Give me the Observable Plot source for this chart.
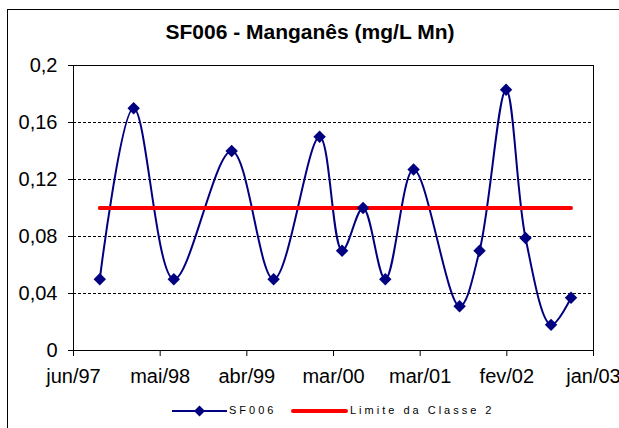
<!DOCTYPE html>
<html>
<head>
<meta charset="utf-8">
<script src="https://cdn.jsdelivr.net/npm/d3@7"></script>
<script src="https://cdn.jsdelivr.net/npm/@observablehq/plot@0.6"></script>
<style>
  body { margin: 0; background: #fff; overflow: hidden; }
  #wrap { position: relative; width: 619px; height: 428px; overflow: hidden; font-family: "Liberation Sans", Arial, sans-serif; background: #fff; }
  #border { position: absolute; left: 7px; top: 9px; width: 700px; height: 500px; border: 1px solid #000; box-sizing: border-box; }
  #title { position: absolute; left: 7px; width: 606px; top: 20px; text-align: center; font-weight: bold; font-size: 21px; line-height: 24px; color: #000; }
  #chart { position: absolute; left: 0; top: 0; }
  .leg { position: absolute; font-size: 11px; letter-spacing: 3px; line-height: 14px; color: #000; white-space: nowrap; }
  .sw { position: absolute; }
</style>
</head>
<body>
<div id="wrap">
  <div id="border"></div>
  <div id="chart"></div>
  <div id="title">SF006 - Manganês (mg/L Mn)</div>
  <svg class="sw" style="left:172px;top:403px" width="56" height="16">
    <line x1="0" y1="8" x2="55" y2="8" stroke="#000080" stroke-width="2"></line>
    <path d="M27.5,2.5L33,8L27.5,13.5L22,8Z" fill="#000080"></path>
  </svg>
  <div class="leg" style="left:229px;top:403px">SF006</div>
  <svg class="sw" style="left:291px;top:403px" width="57" height="16">
    <line x1="2" y1="8" x2="55" y2="8" stroke="#FF0000" stroke-width="4" stroke-linecap="round"></line>
  </svg>
  <div class="leg" style="left:350px;top:403px">Limite da Classe 2</div>
</div>
<script>
// ---- data ----
const sampleDates = ["1997-09-13","1998-01-25","1998-07-03","1999-02-17","1999-08-02","2000-01-31","2000-04-29","2000-07-21","2000-10-17","2001-02-06","2001-08-07","2001-10-25","2002-02-07","2002-04-25","2002-08-04","2002-10-22"];
const sf006 = [0.05, 0.17, 0.05, 0.14, 0.05, 0.15, 0.07, 0.10, 0.05, 0.127, 0.031, 0.07, 0.183, 0.079, 0.018, 0.037];
const limiteClasse2 = [0.1, 0.1, 0.1, 0.1, 0.1, 0.1, 0.1, 0.1, 0.1, 0.1, 0.1, 0.1, 0.1, 0.1, 0.1, 0.1];
const xTickDates = ["1997-06-01","1998-05-10","1999-04-18","2000-03-26","2001-03-04","2002-02-10","2003-01-19"];
const xTickLabels = ["jun/97","mai/98","abr/99","mar/00","mar/01","fev/02","jan/03"];
const yTicks = [0, 0.04, 0.08, 0.12, 0.16, 0.2];
const yTickLabels = ["0","0,04","0,08","0,12","0,16","0,2"];

const parse = d3.utcParse("%Y-%m-%d");
const data = sampleDates.map((d, i) => ({date: parse(d), value: sf006[i]}));
const limitData = sampleDates.map((d, i) => ({date: parse(d), value: limiteClasse2[i]}));
const xTicks = xTickDates.map(parse);
const xLabelMap = new Map(xTicks.map((d, i) => [+d, xTickLabels[i]]));

const chart = Plot.plot({
  width: 619,
  height: 428,
  marginTop: 65,
  marginLeft: 73,
  marginRight: 26,
  marginBottom: 78,
  style: { fontFamily: "'Liberation Sans', Arial, sans-serif", fontSize: "20px", background: "transparent", color: "#000", overflow: "visible" },
  x: { type: "utc", domain: [xTicks[0], xTicks[xTicks.length - 1]], label: null },
  y: { domain: [0, 0.2], label: null },
  marks: [
    Plot.gridY(yTicks.slice(1, -1), { stroke: "#000", strokeOpacity: 1, strokeWidth: 1, strokeDasharray: "3,2" }),
    Plot.frame({ stroke: "#000", strokeWidth: 1 }),
    Plot.axisY(yTicks, { label: null, tickSize: 5, tickPadding: 11, tickFormat: d => yTickLabels[yTicks.indexOf(d)], stroke: "#000" }),
    Plot.axisX(xTicks, { label: null, tickSize: 6, tickPadding: 12, tickFormat: d => xLabelMap.get(+d), stroke: "#000" }),
    Plot.line(data, { x: "date", y: "value", stroke: "#000080", strokeWidth: 2, curve: "catmull-rom" }),
    Plot.line(limitData, { x: "date", y: "value", stroke: "#FF0000", strokeWidth: 4, strokeLinecap: "round" }),
    Plot.dot(data, { x: "date", y: "value", symbol: "diamond2", r: 5.6, fill: "#000080", stroke: "none" })
  ]
});
document.getElementById("chart").appendChild(chart);
</script>
</body>
</html>
